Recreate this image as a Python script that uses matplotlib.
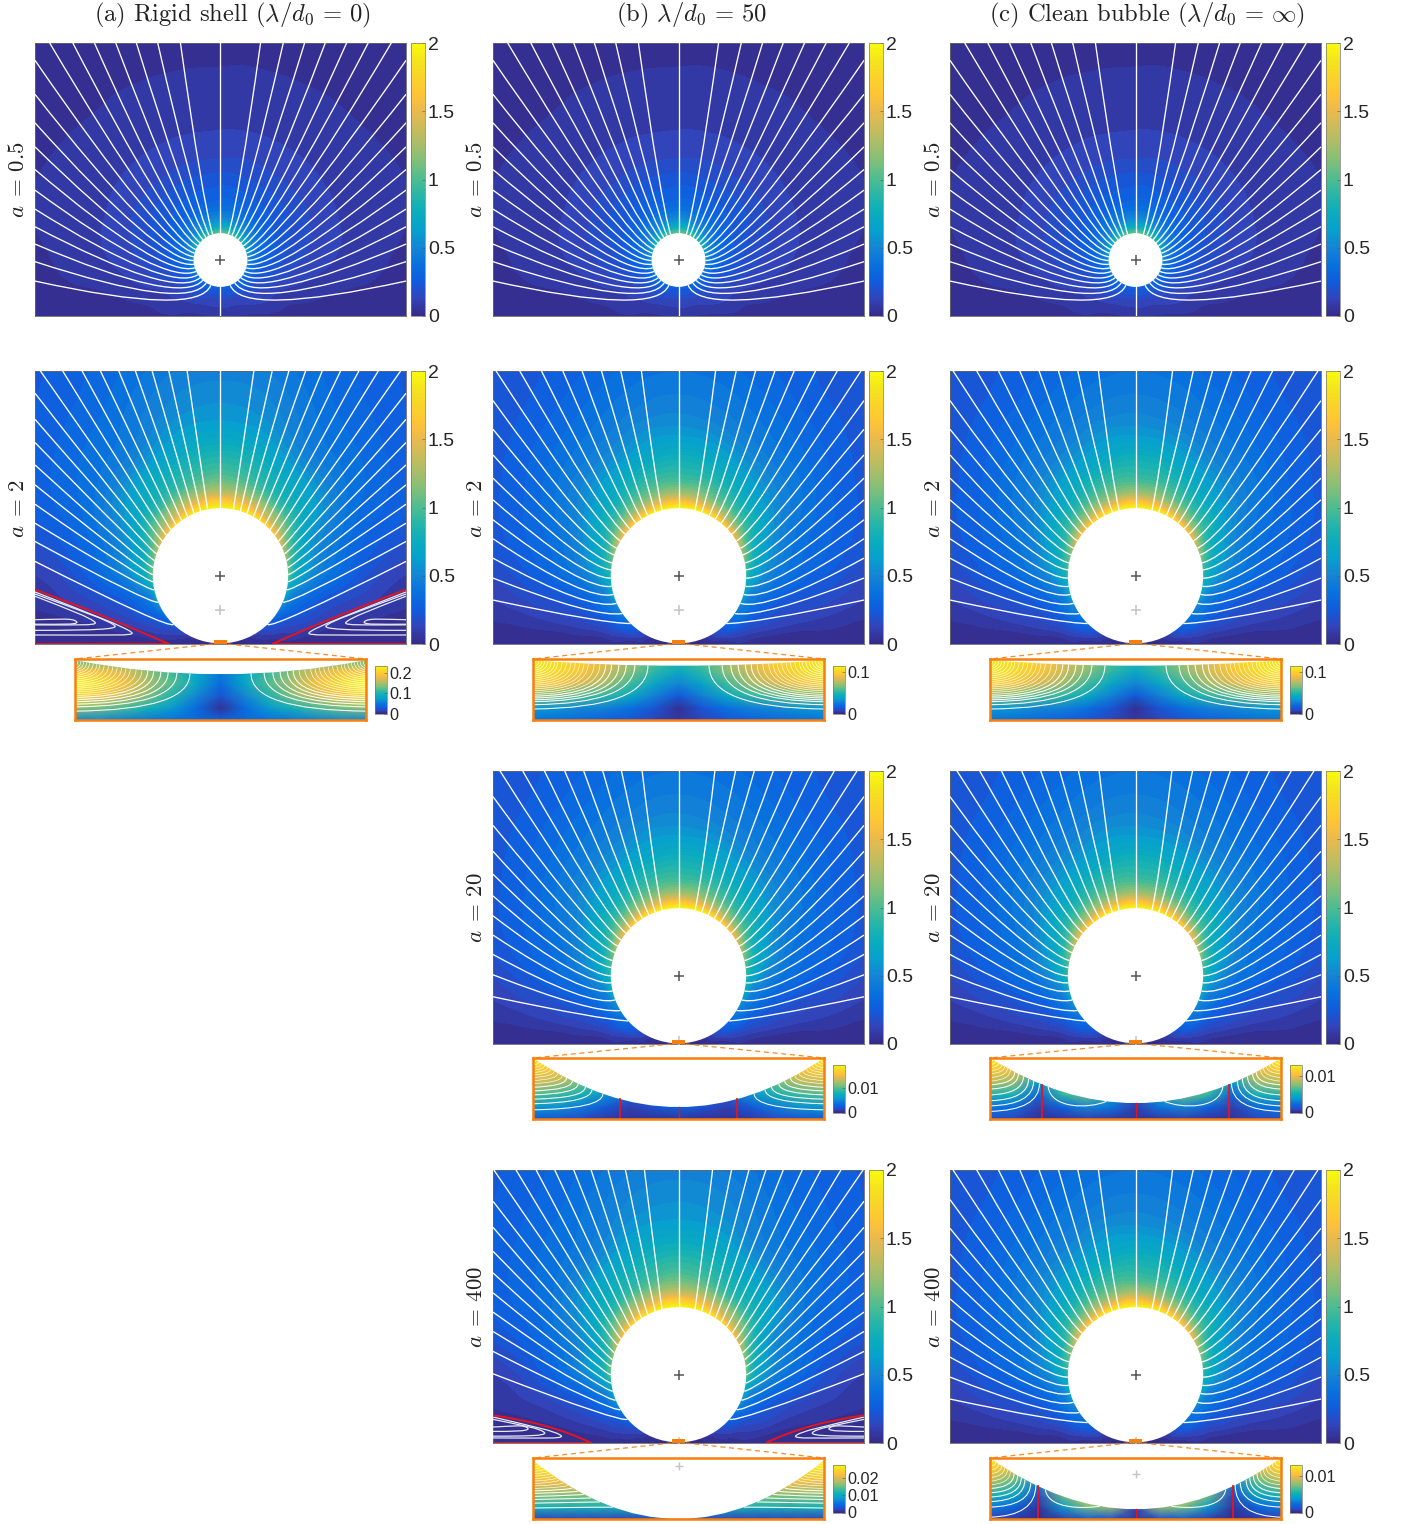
import numpy as np
import matplotlib
matplotlib.use("Agg")
import matplotlib.pyplot as plt
import matplotlib.tri as mtri
from matplotlib.cm import ScalarMappable
from matplotlib.colors import LinearSegmentedColormap, Normalize
from matplotlib.path import Path
from matplotlib.patches import Circle, PathPatch, Rectangle

WIDTH, HEIGHT = 1403, 1524
XMAX = 1.3565

PARULA_COLORS = [
    (0.2081, 0.1663, 0.5292), (0.1959, 0.2645, 0.7279), (0.0591, 0.3598, 0.8683),
    (0.0329, 0.4430, 0.8720), (0.0793, 0.5200, 0.8312), (0.0239, 0.6287, 0.8038),
    (0.0384, 0.6743, 0.7436), (0.1453, 0.7098, 0.6646), (0.3022, 0.7376, 0.5712),
    (0.4871, 0.7491, 0.4840), (0.6473, 0.7456, 0.4188), (0.7858, 0.7356, 0.3633),
    (0.9139, 0.7258, 0.3063), (0.9990, 0.7653, 0.2164), (0.9789, 0.8271, 0.1633),
    (0.9589, 0.8949, 0.1132), (0.9763, 0.9831, 0.0538),
]
PARULA = LinearSegmentedColormap.from_list("parula", PARULA_COLORS, N=256)
ORANGE = "#f77f0e"
RED = "#e8141c"

TITLES = [r"(a) Rigid shell ($\lambda/d_0\,=\,0$)", r"(b) $\lambda/d_0\,=\,50$",
          r"(c) Clean bubble ($\lambda/d_0\,=\,\infty$)"]
ROW_LABELS = [r"$a\;=\,0.5$", r"$a\;=\,2$", r"$a\;=\,20$", r"$a\;=\,400$"]
COL_LEFT = [35, 493, 950]
ROW_TOP = [43, 371, 771, 1170]
INSET_TOP = {1: 659, 2: 1058, 3: 1458}

# speed on rays from the bubble centre: rows are angle from the top, columns distance off the surface
FIELD_THETA = [0, 20, 40, 60, 80, 90, 100, 110, 120, 130, 145, 160, 180]
FIELD_DIST = [0, 0.03, 0.08, 0.15, 0.3, 0.5, 0.8, 1.1, 1.5, 2.0]

SPEED_SMALL = [
    [1.05, 0.85, 0.60, 0.42, 0.27, 0.17, 0.095, 0.06, 0.04, 0.025],
    [1.00, 0.80, 0.56, 0.40, 0.26, 0.17, 0.095, 0.06, 0.04, 0.025],
    [0.90, 0.70, 0.50, 0.37, 0.25, 0.165, 0.095, 0.06, 0.04, 0.025],
    [0.75, 0.60, 0.44, 0.33, 0.23, 0.16, 0.09, 0.06, 0.04, 0.025],
    [0.60, 0.48, 0.37, 0.29, 0.20, 0.14, 0.085, 0.055, 0.035, 0.02],
    [0.53, 0.43, 0.33, 0.26, 0.18, 0.125, 0.075, 0.045, 0.03, 0.018],
    [0.48, 0.38, 0.29, 0.23, 0.16, 0.10, 0.055, 0.03, 0.02, 0.012],
    [0.44, 0.35, 0.26, 0.20, 0.125, 0.07, 0.02, 0, 0, 0],
    [0.40, 0.32, 0.235, 0.17, 0.09, 0.04, 0, 0, 0, 0],
    [0.38, 0.30, 0.22, 0.15, 0.08, 0.02, 0, 0, 0, 0],
    [0.34, 0.27, 0.20, 0.13, 0.04, 0, 0, 0, 0, 0],
    [0.30, 0.25, 0.17, 0.10, 0.01, 0, 0, 0, 0, 0],
    [0.28, 0.23, 0.16, 0.10, 0, 0, 0, 0, 0, 0],
]
SPEED_LARGE = [
    [1.95, 1.75, 1.40, 1.10, 0.85, 0.63, 0.46, 0.37, 0.30, 0.25],
    [1.90, 1.65, 1.30, 1.05, 0.80, 0.58, 0.42, 0.33, 0.27, 0.22],
    [1.70, 1.45, 1.15, 0.92, 0.68, 0.50, 0.36, 0.27, 0.22, 0.18],
    [1.40, 1.20, 0.95, 0.78, 0.56, 0.42, 0.30, 0.23, 0.18, 0.15],
    [1.00, 0.88, 0.72, 0.60, 0.43, 0.33, 0.24, 0.16, 0.12, 0.09],
    [0.85, 0.74, 0.62, 0.50, 0.37, 0.28, 0.17, 0.10, 0.05, 0.03],
    [0.72, 0.59, 0.48, 0.395, 0.27, 0.186, 0.096, 0.044, 0.015, 0],
    [0.60, 0.49, 0.395, 0.30, 0.185, 0.095, 0.02, 0, 0, 0],
    [0.48, 0.42, 0.325, 0.22, 0.09, 0, 0, 0, 0, 0],
    [0.38, 0.33, 0.25, 0.127, 0, 0, 0, 0, 0, 0],
    [0.20, 0.15, 0.06, 0, 0, 0, 0, 0, 0, 0],
    [0.03, 0, 0, 0, 0, 0, 0, 0, 0, 0],
    [0, 0, 0, 0, 0, 0, 0, 0, 0, 0],
]
SPEED_WALLED = [
    [1.95, 1.80, 1.50, 1.20, 0.93, 0.71, 0.54, 0.45, 0.38, 0.30],
    [1.90, 1.70, 1.42, 1.13, 0.86, 0.66, 0.49, 0.40, 0.33, 0.28],
    [1.75, 1.50, 1.25, 1.00, 0.75, 0.54, 0.38, 0.31, 0.25, 0.20],
    [1.45, 1.25, 1.02, 0.82, 0.60, 0.44, 0.33, 0.26, 0.20, 0.15],
    [1.10, 0.93, 0.75, 0.62, 0.44, 0.31, 0.21, 0.15, 0.11, 0.08],
    [1.00, 0.85, 0.68, 0.55, 0.38, 0.24, 0.11, 0.06, 0.03, 0.02],
    [0.75, 0.62, 0.50, 0.40, 0.25, 0.14, 0.06, 0.03, 0.01, 0],
    [0.60, 0.48, 0.37, 0.28, 0.15, 0.06, 0.01, 0, 0, 0],
    [0.45, 0.36, 0.27, 0.19, 0.07, 0, 0, 0, 0, 0],
    [0.32, 0.25, 0.17, 0.10, 0.01, 0, 0, 0, 0, 0],
    [0.16, 0.10, 0.04, 0, 0, 0, 0, 0, 0, 0],
    [0.03, 0, 0, 0, 0, 0, 0, 0, 0, 0],
    [0, 0, 0, 0, 0, 0, 0, 0, 0, 0],
]

# where the streamlines cross the top edge and the side edge, and the angle they reach the bubble at
FAN05_TOP = [0.293, 0.459, 0.615, 0.766, 0.922, 1.080, 1.249]
FAN05_SIDE = [1.873, 1.624, 1.415, 1.239, 1.073, 0.922, 0.783, 0.654, 0.527, 0.398, 0.256]
FAN05_ATTACH = [17, 25, 33, 41, 50, 58, 67, 75, 83, 91, 99, 107, 115, 123, 131, 139, 148, 159]
NO_TURN = [0] * 18

FAN2_TOP = [0.271, 0.422, 0.563, 0.705, 0.846, 1.002, 1.161, 1.334]
FAN2_SIDE = [1.783, 1.573, 1.385, 1.215, 1.056, 0.910, 0.771, 0.629, 0.483, 0.322]
FAN2_ATTACH = [14, 20, 27, 33, 39, 46, 52, 59, 66, 72, 79, 85, 92, 99, 106, 114, 124, 135]
FAN2_TURN = [0] * 15 + [-6, -24, -45]

FAN20_TOP = [0.266, 0.417, 0.554, 0.693, 0.832, 0.980, 1.139, 1.305]
FAN20_SIDE = [1.812, 1.602, 1.412, 1.244, 1.085, 0.939, 0.798, 0.656, 0.507, 0.346]
FAN20_ATTACH = [14, 20, 26, 32, 38, 45, 51, 58, 64, 70, 77, 83, 90, 96, 103, 111, 121, 132]

RIGID_TOP = [0.244, 0.378, 0.500, 0.622, 0.744, 0.878, 1.012, 1.154, 1.317]
RIGID_SIDE = [1.837, 1.646, 1.476, 1.312, 1.166, 1.024, 0.885, 0.751, 0.605]
RIGID_ATTACH = [11, 17, 23, 29, 35, 41, 47, 53, 59, 65, 71, 77, 83, 89, 95, 102, 113, 136]

FAN400_TOP = [0.249, 0.388, 0.515, 0.639, 0.766, 0.905, 1.041, 1.188, 1.350]
FAN400_SIDE = [1.771, 1.580, 1.405, 1.246, 1.100, 0.959, 0.817, 0.671, 0.507]
FAN400_ATTACH = [14, 20, 27, 33, 39, 45, 52, 58, 64, 71, 77, 83, 90, 97, 104, 112, 121, 131]

# corner eddies: separatrix (side height, wall x, control x, control y), loops (top, bottom, nose x, nose y)
RIGID_SEPARATRIX = (0.398, -0.378, -0.85, 0.21)
RIGID_LOOPS = [(0.381, 0.066, -0.646, 0.08), (0.366, 0.100, -0.770, 0.13),
               (0.350, 0.140, -0.915, 0.155), (0.178, 0.145, -1.05, 0.16)]
B400_SEPARATRIX = (0.202, -0.637, -0.95, 0.15)
B400_LOOPS = [(0.190, 0.037, -0.856, 0.05), (0.173, 0.050, -0.978, 0.073),
              (0.117, 0.085, -1.100, 0.105)]

# gap views: speed on x = -1 ... 0 (columns), y = 0 ... 1 (rows), right half is the mirror
INSET_X = [-1.0, -0.833, -0.667, -0.5, -0.333, -0.167, 0.0]
INSET_Y = [0.0, 0.2, 0.4, 0.6, 0.8, 1.0]
INSET_RIGID2 = [
    [0.060, 0.060, 0.055, 0.050, 0.045, 0.040, 0.035],
    [0.140, 0.130, 0.115, 0.095, 0.070, 0.040, 0.005],
    [0.210, 0.190, 0.165, 0.135, 0.100, 0.060, 0.025],
    [0.235, 0.215, 0.190, 0.150, 0.120, 0.080, 0.040],
    [0.190, 0.190, 0.170, 0.140, 0.110, 0.080, 0.050],
    [0.120, 0.120, 0.120, 0.120, 0.110, 0.080, 0.050],
]
INSET_SOFT2 = [
    [0.023, 0.021, 0.019, 0.016, 0.013, 0.008, 0.004],
    [0.035, 0.034, 0.030, 0.028, 0.022, 0.013, 0.002],
    [0.070, 0.066, 0.059, 0.053, 0.042, 0.028, 0.014],
    [0.099, 0.094, 0.084, 0.073, 0.056, 0.040, 0.029],
    [0.111, 0.105, 0.096, 0.082, 0.068, 0.053, 0.042],
    [0.111, 0.108, 0.101, 0.088, 0.074, 0.059, 0.053],
]
INSET_B20 = [
    [0.0023, 0.0020, 0.0016, 0.0008, 0.0004, 0.0004, 0.0006],
    [0.0058, 0.0055, 0.0043, 0.0023, 0.0010, 0.0020, 0.0029],
    [0.0098, 0.0092, 0.0078, 0.0055, 0.0029, 0.0039, 0.0043],
    [0.0137, 0.0127, 0.0107, 0.0078, 0.0049, 0.0049, 0.0049],
    [0.0166, 0.0156, 0.0137, 0.0098, 0.0059, 0.0059, 0.0059],
    [0.0189, 0.0176, 0.0156, 0.0117, 0.0078, 0.0059, 0.0059],
]
INSET_C20 = [
    [0.0013, 0.0009, 0.0003, 0.0004, 0.0007, 0.0005, 0.0003],
    [0.0026, 0.0023, 0.0007, 0.0020, 0.0033, 0.0026, 0.0007],
    [0.0055, 0.0052, 0.0020, 0.0059, 0.0072, 0.0046, 0.0013],
    [0.0085, 0.0078, 0.0039, 0.0072, 0.0078, 0.0052, 0.0013],
    [0.0111, 0.0098, 0.0065, 0.0065, 0.0065, 0.0039, 0.0013],
    [0.0126, 0.0111, 0.0078, 0.0065, 0.0065, 0.0039, 0.0013],
]
INSET_B400 = [
    [0.0020, 0.0020, 0.0020, 0.0020, 0.0020, 0.0025, 0.0030],
    [0.0115, 0.0115, 0.0115, 0.0115, 0.0115, 0.0115, 0.0115],
    [0.0165, 0.0165, 0.0165, 0.0165, 0.0165, 0.0165, 0.0165],
    [0.0215, 0.0215, 0.0215, 0.0215, 0.0215, 0.0215, 0.0215],
    [0.0255, 0.0255, 0.0255, 0.0255, 0.0255, 0.0255, 0.0255],
    [0.0275, 0.0275, 0.0275, 0.0275, 0.0275, 0.0275, 0.0275],
]
INSET_C400 = [
    [0.0007, 0.0005, 0.0001, 0.0007, 0.0016, 0.0013, 0.0003],
    [0.0029, 0.0020, 0.0004, 0.0039, 0.0072, 0.0078, 0.0010],
    [0.0055, 0.0046, 0.0013, 0.0072, 0.0104, 0.0091, 0.0013],
    [0.0085, 0.0065, 0.0033, 0.0078, 0.0091, 0.0078, 0.0013],
    [0.0111, 0.0091, 0.0046, 0.0065, 0.0065, 0.0065, 0.0013],
    [0.0126, 0.0104, 0.0052, 0.0065, 0.0065, 0.0065, 0.0013],
]

# gap-view streamlines: where each meets the bubble (x) and the side edge (y)
LINES2_END = [-0.21, -0.30, -0.36, -0.41, -0.46, -0.50, -0.54, -0.58, -0.62, -0.65, -0.68, -0.71,
              -0.74, -0.77, -0.80, -0.83, -0.85, -0.875, -0.90, -0.92, -0.94, -0.96, -0.98]
RIGID2_EDGE = [0.145, 0.215, 0.26, 0.30, 0.335, 0.37, 0.40, 0.43, 0.46, 0.49, 0.52, 0.55,
               0.58, 0.61, 0.64, 0.67, 0.70, 0.73, 0.76, 0.79, 0.82, 0.85, 0.88]
SOFT2_EDGE = [0.18, 0.25, 0.30, 0.33, 0.36, 0.39, 0.42, 0.45, 0.48, 0.51, 0.54, 0.57,
              0.60, 0.63, 0.66, 0.69, 0.72, 0.75, 0.78, 0.81, 0.84, 0.87, 0.90]
B20_END = [-0.52, -0.595, -0.64, -0.69, -0.73, -0.77, -0.80, -0.83, -0.855, -0.88, -0.90, -0.92, -0.94, -0.96, -0.98]
B20_EDGE = [0.15, 0.25, 0.325, 0.395, 0.46, 0.52, 0.58, 0.63, 0.68, 0.72, 0.76, 0.80, 0.84, 0.88, 0.92]
C20_END = [-0.66, -0.70, -0.735, -0.77, -0.805, -0.83, -0.86, -0.88, -0.90, -0.92, -0.94, -0.96, -0.98]
C20_EDGE = [0.125, 0.215, 0.30, 0.395, 0.49, 0.56, 0.62, 0.68, 0.74, 0.79, 0.84, 0.89, 0.93]
B400_END = [-0.45, -0.54, -0.60, -0.65, -0.69, -0.73, -0.76, -0.79, -0.82, -0.84, -0.86, -0.88, -0.90, -0.92, -0.94, -0.96, -0.98]
B400_EDGE = [0.18, 0.26, 0.32, 0.37, 0.42, 0.46, 0.50, 0.54, 0.58, 0.62, 0.66, 0.70, 0.74, 0.78, 0.82, 0.86, 0.90]
C400_END = [-0.685, -0.72, -0.76, -0.785, -0.81, -0.835, -0.86, -0.88, -0.90, -0.92, -0.94, -0.96, -0.98]
C400_EDGE = [0.03, 0.195, 0.285, 0.36, 0.43, 0.50, 0.56, 0.62, 0.68, 0.74, 0.80, 0.86, 0.92]

plt.rcParams["font.family"] = ["Liberation Sans", "DejaVu Sans"]
plt.rcParams["mathtext.fontset"] = "cm"


def box(left, top, width, height):
    return [left / WIDTH, 1 - (top + height) / HEIGHT, width / WIDTH, height / HEIGHT]


def draw_field(ax, speed, radius, centre):
    theta, dist = np.meshgrid(np.radians(FIELD_THETA), FIELD_DIST, indexing="ij")
    speed = np.array(speed, dtype=float)
    x = (radius + dist) * np.sin(theta)
    y = centre + (radius + dist) * np.cos(theta)
    xs = np.concatenate([x.ravel(), -x[1:-1].ravel()])
    ys = np.concatenate([y.ravel(), y[1:-1].ravel()])
    zs = np.concatenate([speed.ravel(), speed[1:-1].ravel()])
    fine, zfine = mtri.UniformTriRefiner(mtri.Triangulation(xs, ys)).refine_field(zs, subdiv=3)
    ax.tricontourf(fine, zfine, levels=np.linspace(0, 2, 41), cmap=PARULA, vmin=0, vmax=2, extend="both")


def draw_fan(ax, top_x, side_y, attach, turn, reach, radius, centre):
    starts = [(-x, 2.0) for x in top_x] + [(-XMAX, y) for y in side_y]
    for start, ang, tw in zip(starts, attach, turn):
        phi, tilt = np.radians(ang), np.radians(ang + tw)
        end = (-radius * np.sin(phi), centre + radius * np.cos(phi))
        ctrl = (end[0] - reach * np.sin(tilt), end[1] + reach * np.cos(tilt))
        for sign in (1, -1):
            verts = [(sign * start[0], start[1]), (sign * ctrl[0], ctrl[1]), (sign * end[0], end[1])]
            ax.add_patch(PathPatch(Path(verts, [Path.MOVETO, Path.CURVE3, Path.CURVE3]),
                                   fc="none", ec="white", lw=0.95, zorder=3))
    ax.plot([0, 0], [0, 2], color="white", lw=0.95, zorder=3)


def draw_eddies(ax, separatrix, loops):
    side, wall_x, cx, cy = separatrix
    for sign in (1, -1):
        verts = [(-sign * XMAX, side), (sign * cx, cy), (sign * wall_x, 0)]
        ax.add_patch(PathPatch(Path(verts, [Path.MOVETO, Path.CURVE3, Path.CURVE3]),
                               fc="none", ec=RED, lw=1.4, zorder=5))
        ax.plot([-sign * XMAX, sign * wall_x], [0.004, 0.004], color=RED, lw=0.7, zorder=5)
        for top, bottom, nose_x, nose_y in loops:
            verts = [(-XMAX, top), ((nose_x - XMAX) / 2, (top + nose_y) / 2 + 0.01),
                     (nose_x - 0.02, nose_y + 0.035), (nose_x, nose_y),
                     (nose_x, nose_y - 0.02), (nose_x - 0.12, bottom), (-XMAX, bottom)]
            codes = [Path.MOVETO] + [Path.CURVE4] * 6
            verts = [(sign * vx, vy) for vx, vy in verts]
            ax.add_patch(PathPatch(Path(verts, codes), fc="none", ec="#e8e8f0", lw=0.9, zorder=3))


def add_colorbar(fig, rect, vmax, ticks, labels, size):
    cax = fig.add_axes(rect)
    sm = ScalarMappable(norm=Normalize(0, vmax), cmap=PARULA)
    cbar = fig.colorbar(sm, cax=cax, ticks=ticks)
    cbar.set_ticklabels(labels)
    cbar.outline.set_edgecolor("#777777")
    cbar.outline.set_linewidth(0.5)
    cax.tick_params(labelsize=size, length=2, width=0.4, direction="in", pad=2,
                    color="#555555", labelcolor="#262626")


def draw_main(fig, col, row, speed, fan, reach, radius, centre, grey_y=None, eddies=None):
    left, top = COL_LEFT[col], ROW_TOP[row]
    ax = fig.add_axes(box(left, top, 371, 273))
    ax.set_facecolor(PARULA(0.0))
    draw_field(ax, speed, radius, centre)
    draw_fan(ax, *fan, reach, radius, centre)
    if eddies is not None:
        draw_eddies(ax, *eddies)
    ax.add_patch(Circle((0, centre), radius, fc="white", ec="none", zorder=4))
    ax.plot([0], [centre], marker="+", color="#555555", ms=7, mew=1.1, zorder=6)
    if grey_y is not None:
        ax.plot([0], [grey_y], marker="+", color="#c4c4c4", ms=7, mew=1.1, zorder=6)
    if row > 0:
        ax.add_patch(Rectangle((-0.051, 0), 0.102, 0.03, fc=ORANGE, ec="none", zorder=7))
    ax.set_xlim(-XMAX, XMAX)
    ax.set_ylim(0, 2)
    ax.set_xticks([])
    ax.set_yticks([])
    for spine in ax.spines.values():
        spine.set_color("#666666")
        spine.set_linewidth(0.6)
    add_colorbar(fig, box(left + 376, top, 14, 273), 2, [0, 0.5, 1, 1.5, 2],
                 ["0", "0.5", "1", "1.5", "2"], 14)
    fig.text((left - 17) / WIDTH, 1 - (top + 137) / HEIGHT, ROW_LABELS[row], rotation=90,
             ha="center", va="center", fontsize=16.5, color="#222222")


def draw_inset(fig, col, row, table, vmax, ticks, labels, gap, edge, ends, edges,
               red_x=(), arc=None, grey_y=None):
    left, top = COL_LEFT[col] + 40, INSET_TOP[row]
    ax = fig.add_axes(box(left, top, 291, 61))
    half = np.array(table, dtype=float)
    full = np.hstack([half, half[:, -2::-1]])
    xgrid = np.concatenate([INSET_X, -np.array(INSET_X[-2::-1])])
    ax.pcolormesh(xgrid, INSET_Y, full, shading="gouraud", cmap=PARULA, vmin=0, vmax=vmax)

    def surface(x):
        return gap + (edge - gap) * x ** 2

    for i, (x_end, y_edge) in enumerate(zip(ends, edges)):
        for sign in (1, -1):
            verts = [(-sign, y_edge), (sign * x_end, y_edge + 0.02), (sign * x_end, surface(x_end))]
            ax.add_patch(PathPatch(Path(verts, [Path.MOVETO, Path.CURVE3, Path.CURVE3]),
                                   fc="none", ec="white", lw=0.75 if i < 6 else 0.45, zorder=3))
    if arc is not None:
        x0, x1, low = arc
        for sign in (1, -1):
            verts = [(sign * x0, surface(x0)), (sign * (x0 + 0.02), low - 0.03),
                     (sign * (x1 - 0.12), low - 0.03), (sign * x1, surface(x1))]
            ax.add_patch(PathPatch(Path(verts, [Path.MOVETO] + [Path.CURVE4] * 3),
                                   fc="none", ec="white", lw=0.75, zorder=3))
    shape = Path([(-1, edge), (0, 2 * gap - edge), (1, edge), (1, 1.1), (-1, 1.1), (-1, edge)],
                 [Path.MOVETO, Path.CURVE3, Path.CURVE3, Path.LINETO, Path.LINETO, Path.CLOSEPOLY])
    ax.add_patch(PathPatch(shape, fc="white", ec="none", zorder=4))
    for x in red_x:
        ax.plot([x, x], [0, surface(x)], color=RED, lw=1.3 if x != 0 else 1.0, zorder=5)
    if grey_y is not None:
        ax.plot([0], [grey_y], marker="+", color="#c4c4c4", ms=6, mew=1.0, zorder=6)
    ax.set_xlim(-1, 1)
    ax.set_ylim(0, 1)
    ax.set_xticks([])
    ax.set_yticks([])
    for spine in ax.spines.values():
        spine.set_color(ORANGE)
        spine.set_linewidth(1.8)
        spine.set_zorder(10)
    add_colorbar(fig, box(left + 300, top + 6.5, 11.5, 48), vmax, ticks, labels, 11.7)

    # dashed lines from the marked wall patch to the gap view
    centre = COL_LEFT[col] + 185.5
    wall = ROW_TOP[row] + 273
    for sign, corner in ((-1, left), (1, left + 291)):
        over.plot([centre + sign * 7, corner], [wall, top], color=ORANGE, lw=0.9, ls=(0, (4, 3)), alpha=0.9)


fig = plt.figure(figsize=(WIDTH / 100, HEIGHT / 100), dpi=100)
over = fig.add_axes([0, 0, 1, 1], zorder=10)
over.set_xlim(0, WIDTH)
over.set_ylim(HEIGHT, 0)
over.axis("off")
over.patch.set_alpha(0)

FAN05 = (FAN05_TOP, FAN05_SIDE, FAN05_ATTACH, NO_TURN)
FAN2 = (FAN2_TOP, FAN2_SIDE, FAN2_ATTACH, FAN2_TURN)
FAN20 = (FAN20_TOP, FAN20_SIDE, FAN20_ATTACH, FAN2_TURN)
RIGID = (RIGID_TOP, RIGID_SIDE, RIGID_ATTACH, NO_TURN)
FAN400 = (FAN400_TOP, FAN400_SIDE, FAN400_ATTACH, NO_TURN)

for col in range(3):
    draw_main(fig, col, 0, SPEED_SMALL, FAN05, 0.25, 0.197, 0.41)
draw_main(fig, 0, 1, SPEED_WALLED, RIGID, 0.05, 0.495, 0.5, grey_y=0.249,
          eddies=(RIGID_SEPARATRIX, RIGID_LOOPS))
draw_main(fig, 1, 1, SPEED_LARGE, FAN2, 0.2, 0.495, 0.5, grey_y=0.249)
draw_main(fig, 2, 1, SPEED_LARGE, FAN2, 0.2, 0.495, 0.5, grey_y=0.249)
draw_main(fig, 1, 2, SPEED_LARGE, FAN20, 0.2, 0.495, 0.5, grey_y=0.02)
draw_main(fig, 2, 2, SPEED_LARGE, FAN20, 0.2, 0.495, 0.5, grey_y=0.02)
draw_main(fig, 1, 3, SPEED_WALLED, FAN400, 0.05, 0.495, 0.5, grey_y=0.01,
          eddies=(B400_SEPARATRIX, B400_LOOPS))
draw_main(fig, 2, 3, SPEED_LARGE, FAN2, 0.2, 0.495, 0.5, grey_y=0.01)

draw_inset(fig, 0, 1, INSET_RIGID2, 0.235, [0, 0.1, 0.2], ["0", "0.1", "0.2"], 0.75, 0.98,
           LINES2_END, RIGID2_EDGE)
draw_inset(fig, 1, 1, INSET_SOFT2, 0.117, [0, 0.1], ["0", "0.1"], 0.89, 0.98, LINES2_END, SOFT2_EDGE)
draw_inset(fig, 2, 1, INSET_SOFT2, 0.117, [0, 0.1], ["0", "0.1"], 0.89, 0.98, LINES2_END, SOFT2_EDGE)
draw_inset(fig, 1, 2, INSET_B20, 0.0195, [0, 0.01], ["0", "0.01"], 0.195, 1.0, B20_END, B20_EDGE,
           red_x=(-0.40, 0, 0.40))
draw_inset(fig, 2, 2, INSET_C20, 0.013, [0, 0.01], ["0", "0.01"], 0.26, 1.0, C20_END, C20_EDGE,
           red_x=(-0.64, 0, 0.64), arc=(-0.60, -0.20, 0.195))
draw_inset(fig, 1, 3, INSET_B400, 0.028, [0, 0.01, 0.02], ["0", "0.01", "0.02"], 0.0, 0.96,
           B400_END, B400_EDGE, grey_y=0.876)
draw_inset(fig, 2, 3, INSET_C400, 0.013, [0, 0.01], ["0", "0.01"], 0.16, 1.0, C400_END, C400_EDGE,
           red_x=(-0.67, 0, 0.67), arc=(-0.62, -0.245, 0.195), grey_y=0.735)

for title, x_mid in zip(TITLES, [232, 691, 1147]):
    fig.text(x_mid / WIDTH, 1 - 15 / HEIGHT, title, family="cmr10", ha="center", va="center",
             fontsize=17.7, color="#222222")

fig.savefig("out.png", dpi=100)
